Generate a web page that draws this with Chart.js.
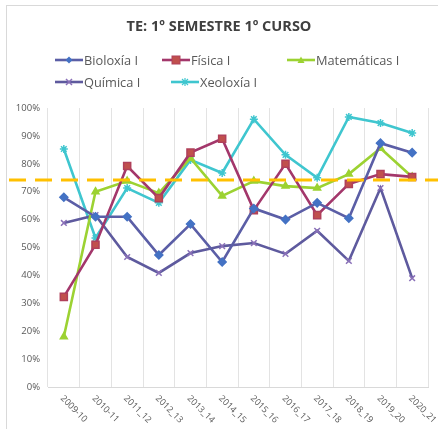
<!DOCTYPE html>
<html>
<head>
<meta charset="utf-8">
<script src="https://cdn.jsdelivr.net/npm/chart.js@4"></script>
<style>
  html, body { margin: 0; padding: 0; background: #fff; }
  #wrap { position: relative; width: 438px; height: 429px; overflow: hidden; font-family: "Open Sans", sans-serif; }
  #frame { position: absolute; left: 6px; top: 5px; width: 440px; height: 440px; border-top: 1px solid #d9d9d9; border-left: 1px solid #d9d9d9; }
  #title { position: absolute; left: 0; width: 438px; top: 16px; text-align: center; font-weight: bold; font-size: 14.5px; color: #404040; }
  .lg { position: absolute; font-size: 12.8px; color: #595959; display: flex; align-items: center; white-space: nowrap; }
  .lg svg { margin-right: 1px; }
  canvas { position: absolute; left: 0; top: 0; }
</style>
</head>
<body>
<div id="wrap">
  <div id="frame"></div>
  <canvas id="c" width="438" height="429"></canvas>
  <div id="title">TE: 1º SEMESTRE 1º CURSO</div>
  <div id="legend"></div>
</div>
<script>
const categories = ["2009-10","2010-11","2011_12","2012_13","2013_14","2014_15","2015_16","2016_17","2017_18","2018_19","2019_20","2020_21"];
const bioloxia   = [68, 61, 61, 47.3, 58.4, 44.8, 64, 60, 66, 60.5, 87.4, 84];
const fisica     = [32.3, 51, 79.2, 67.7, 84, 89, 63.4, 80, 61.6, 72.8, 76.3, 75.3];
const matematicas= [18, 70, 73.8, 69.5, 82, 68.5, 73.8, 72, 71.3, 76.3, 85.6, 75.3];
const quimica    = [58.8, 61.6, 46.6, 40.9, 48, 50.5, 51.6, 47.7, 56, 45.2, 71.3, 39];
const xeoloxia   = [85.3, 53.4, 71.3, 66, 81.4, 76.7, 96, 83.2, 75, 96.8, 94.6, 91];
const threshold  = [74.2];
const seriesNames = ["Bioloxía I","Física I","Matemáticas I","Química I","Xeoloxía I"];
const yTicks = [0,10,20,30,40,50,60,70,80,90,100];

const styles = [
  {line:'#5b5ea6', fill:'#4472c4', border:'#4472c4', ps:'rectRot', r:4},
  {line:'#a3376b', fill:'#c0504d', border:'#b0405a', ps:'rect', r:5},
  {line:'#9cd232', fill:'#9cd232', border:'#9cd232', ps:'triangle', r:4},
  {line:'#5e5a9e', fill:'#8a70b8', border:'#8a70b8', ps:'crossRot', r:4},
  {line:'#3fc6cf', fill:'#3fc6cf', border:'#3fc6cf', ps:'star', r:4}
];
const data = [bioloxia, fisica, matematicas, quimica, xeoloxia];

const datasets = data.map((d, i) => ({
  label: seriesNames[i],
  data: d,
  borderColor: styles[i].line,
  backgroundColor: styles[i].fill,
  pointBackgroundColor: styles[i].fill,
  pointBorderColor: styles[i].border,
  pointStyle: styles[i].ps,
  pointRadius: styles[i].r,
  pointBorderWidth: 1.5,
  borderWidth: 2.6,
  tension: 0
}));

// legend (HTML)
const legendPos = [[55,51],[162,51],[287,51],[55,73],[171,73]];
const lgDiv = document.getElementById('legend');
function iconSVG(i){
  const s = styles[i];
  let m = '';
  const cx = 14, cy = 6;
  if (s.ps === 'rectRot') m = `<polygon points="${cx},${cy-3.5} ${cx+3.5},${cy} ${cx},${cy+3.5} ${cx-3.5},${cy}" fill="${s.fill}"/>`;
  else if (s.ps === 'rect') m = `<rect x="${cx-4}" y="${cy-4}" width="8" height="8" fill="${s.fill}" stroke="${s.border}"/>`;
  else if (s.ps === 'triangle') m = `<polygon points="${cx},${cy-3.5} ${cx+3.5},${cy+3} ${cx-3.5},${cy+3}" fill="${s.fill}"/>`;
  else if (s.ps === 'crossRot') m = `<path d="M${cx-3} ${cy-3}L${cx+3} ${cy+3}M${cx+3} ${cy-3}L${cx-3} ${cy+3}" stroke="${s.border}" stroke-width="1.5"/>`;
  else m = `<path d="M${cx-3} ${cy-3}L${cx+3} ${cy+3}M${cx+3} ${cy-3}L${cx-3} ${cy+3}M${cx} ${cy-4}L${cx} ${cy+4}" stroke="${s.border}" stroke-width="1.2"/>`;
  return `<svg width="28" height="12"><line x1="0" y1="6" x2="28" y2="6" stroke="${s.line}" stroke-width="2.6"/>${m}</svg>`;
}
seriesNames.forEach((n, i) => {
  const el = document.createElement('div');
  el.className = 'lg';
  el.style.left = legendPos[i][0] + 'px';
  el.style.top = legendPos[i][1] + 'px';
  el.innerHTML = iconSVG(i) + '<span></span>';
  el.querySelector('span').textContent = n;
  lgDiv.appendChild(el);
});

const extras = {
  id: 'extras',
  afterDatasetsDraw(chart) {
    const ctx = chart.ctx, y = chart.scales.y;
    const py = y.getPixelForValue(threshold[0]);
    ctx.save();
    ctx.strokeStyle = '#ffc000';
    ctx.lineWidth = 3;
    ctx.setLineDash([17, 9]);
    ctx.beginPath();
    ctx.moveTo(9, py);
    ctx.lineTo(438, py);
    ctx.stroke();
    ctx.restore();
  },
  afterDraw(chart) {
    const ctx = chart.ctx, x = chart.scales.x;
    ctx.save();
    ctx.fillStyle = '#595959';
    ctx.font = '9px "Open Sans", sans-serif';
    ctx.textAlign = 'left';
    ctx.textBaseline = 'middle';
    categories.forEach((c, i) => {
      const px = x.getPixelForTick(i);
      ctx.save();
      ctx.translate(px - 2, x.top + 10);
      ctx.rotate(Math.PI / 4);
      ctx.fillText(c, 0, 0);
      ctx.restore();
    });
    ctx.restore();
  }
};

new Chart(document.getElementById('c'), {
  type: 'line',
  data: { labels: categories, datasets },
  options: {
    responsive: false,
    animation: false,
    layout: { padding: { top: 108, right: 10, left: 0, bottom: 0 } },
    plugins: { legend: { display: false }, title: { display: false }, tooltip: { enabled: false } },
    scales: {
      x: {
        offset: true,
        grid: { offset: true, color: '#e3e3e3', lineWidth: 1, drawTicks: false },
        border: { display: true, color: '#d9d9d9' },
        ticks: { display: false },
        afterFit(s) { s.height = 42; }
      },
      y: {
        min: 0, max: 100,
        afterBuildTicks(s) { s.ticks = yTicks.map(v => ({ value: v })); },
        grid: { display: false, drawTicks: false },
        border: { display: false },
        ticks: { color: '#595959', font: { family: 'Open Sans', size: 9.5 }, padding: 8, callback: v => v + '%' },
        afterFit(s) { s.width = 48; }
      }
    }
  },
  plugins: [extras]
});
</script>
</body>
</html>
